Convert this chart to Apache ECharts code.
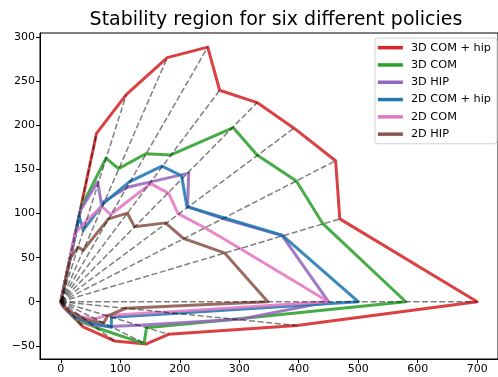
<!DOCTYPE html>
<html>
<head>
<meta charset="utf-8">
<script src="https://cdn.jsdelivr.net/npm/echarts@6/dist/echarts.min.js"></script>
<style>
html,body{margin:0;padding:0;background:#fff;}
#chart{width:498px;height:377px;}
</style>
</head>
<body>
<div id="chart"></div>
<script>
// ---- data ----
const titleText = 'Stability region for six different policies';
const seriesNames = ['3D COM + hip', '3D COM', '3D HIP', '2D COM + hip', '2D COM', '2D HIP'];
const seriesColors = ['#d62728', '#2ca02c', '#9467bd', '#1f77b4', '#e377c2', '#8c564b'];

const com3dHip = [[0,0],[60,191],[110,235],[179,277],[247,289],[267,240],[330,226],[392,197],[462,160],[469,94],[700,0],[397,-27],[181,-37],[143,-48],[90,-44.5],[37.5,-28.6],[4.3,-5.9],[0,0]];
const com3d = [[0,0],[34,107],[76,163],[97,151],[143,168],[184,166.5],[290,197.5],[330,166.5],[396,137],[440,89],[580,0],[292,-20],[144,-29.5],[140,-47.5],[60,-29.5],[28,-21],[3,-4],[0,0]];
const hip3d = [[0,0],[33,104],[62,136],[68,112],[112,130],[151,136],[215,146],[213,108],[274,94],[372,75],[450,0],[300,-20],[131,-26.7],[82,-28],[52,-26],[22,-17],[2,-3],[0,0]];
const com2dHip = [[0,0],[31,97],[37.5,81],[71,111],[115,136],[170,154],[203,143],[212,108],[275,95],[372,75.6],[500,0],[195,-13.2],[85,-17.5],[85,-29],[46,-23],[21,-16],[2,-3],[0,0]];
const com2d = [[0,0],[24,78],[43,92],[69,108],[84,99],[151,134],[181.5,123],[197,100],[242,84],[300,61],[450,0],[173,-11.8],[76,-15.5],[58,-19.5],[34,-17],[14,-10.5],[2,-3],[0,0]];
const hip2d = [[0,0],[15.5,49],[29,62],[37.5,58.5],[80,94],[112,100.5],[124,85],[176,89.5],[206,72],[275,55.5],[348,0],[109,-7.4],[79,-16],[72,-24],[42,-20.5],[15,-11.5],[2,-3],[0,0]];

const xTicks = [0, 100, 200, 300, 400, 500, 600, 700];
const yTicks = [-50, 0, 50, 100, 150, 200, 250, 300];

// ---- chart ----
const polygons = [com3dHip, com3d, hip3d, com2dHip, com2d, hip2d];
const fmt = v => (v < 0 ? '\u2212' + Math.abs(v) : String(v));
const FONT = 'DejaVu Sans';

const series = [];
polygons.forEach((pts, i) => {
  series.push({
    name: seriesNames[i],
    type: 'line',
    data: pts,
    showSymbol: false,
    symbol: 'none',
    silent: true,
    animation: false,
    z: 2 + i * 0.01,
    itemStyle: { color: seriesColors[i] },
    lineStyle: { color: seriesColors[i], width: 3, opacity: 0.88, cap: 'square', join: 'round' }
  });
});
// dashed rays from origin to each vertex of the outermost polygon
com3dHip.forEach(p => {
  if (p[0] === 0 && p[1] === 0) return;
  series.push({
    type: 'line',
    data: [[0,0], p],
    showSymbol: false,
    symbol: 'none',
    silent: true,
    animation: false,
    z: 5,
    lineStyle: { color: 'rgba(0,0,0,0.5)', width: 1.5, type: [6, 2.6] }
  });
});

const chart = echarts.init(document.getElementById('chart'), null, { renderer: 'canvas' });
chart.setOption({
  animation: false,
  backgroundColor: '#fff',
  title: {
    text: titleText,
    left: 271,
    top: 6,
    textAlign: 'center',
    textStyle: { fontFamily: FONT, fontSize: 19, fontWeight: 'normal', color: '#000' }
  },
  legend: {
    data: seriesNames.map(n => ({ name: n, icon: 'rect' })),
    orient: 'vertical',
    right: 1,
    top: 38,
    itemWidth: 25,
    itemHeight: 3.5,
    itemGap: 0,
    padding: [1, 6, 1, 3],
    backgroundColor: 'rgba(255,255,255,0.8)',
    borderColor: '#d0d0d0',
    borderWidth: 1,
    borderRadius: 3,
    textStyle: { fontFamily: FONT, fontSize: 11.3, color: '#000', lineHeight: 17.3, padding: [0, 0, 0, 3] }
  },
  grid: {
    left: 40, top: 33, bottom: 18, right: -5.4,
    show: true, borderColor: '#000', borderWidth: 1, backgroundColor: 'transparent'
  },
  xAxis: {
    type: 'value', min: -35, max: 735,
    splitLine: { show: false },
    axisLine: { show: true, onZero: false, lineStyle: { color: '#000', width: 1 } },
    axisTick: { show: true, length: 4, customValues: xTicks, lineStyle: { color: '#000' } },
    axisLabel: { customValues: xTicks, formatter: fmt, margin: 5, fontFamily: FONT, fontSize: 11, color: '#000' }
  },
  yAxis: {
    type: 'value', min: -65, max: 305,
    splitLine: { show: false },
    axisLine: { show: true, onZero: false, lineStyle: { color: '#000', width: 1 } },
    axisTick: { show: true, length: 4, customValues: yTicks, lineStyle: { color: '#000' } },
    axisLabel: { customValues: yTicks, formatter: fmt, margin: 5, fontFamily: FONT, fontSize: 11, color: '#000' }
  },
  series: series
});
</script>
</body>
</html>
